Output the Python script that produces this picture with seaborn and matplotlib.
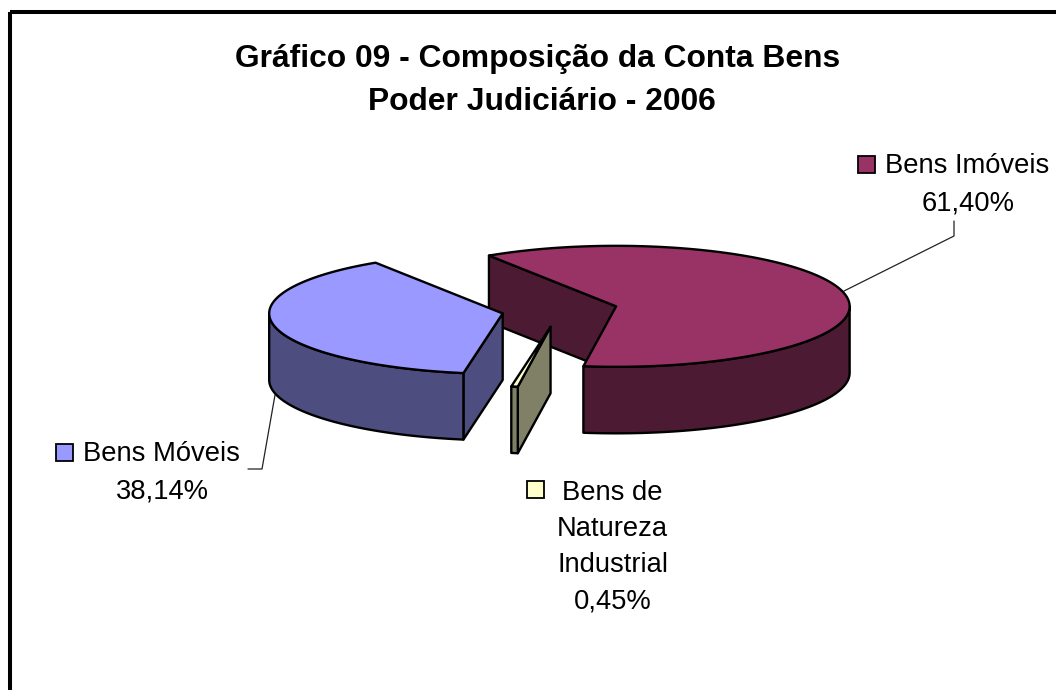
import numpy as np
import matplotlib
matplotlib.use("Agg")
import matplotlib.pyplot as plt
from matplotlib.patches import Polygon, Rectangle
import seaborn as sns

# --- data ---
categories = ["Bens Imóveis", "Bens de Natureza Industrial", "Bens Móveis"]
values = [61.40, 0.45, 38.14]
value_labels = ["61,40%", "0,45%", "38,14%"]
top_colors = ["#993366", "#FFFFCC", "#9999FF"]
side_colors = ["#4D1A33", "#808066", "#4D4D80"]
draw_order = [0, 2, 1]
title_lines = ["Gráfico 09 - Composição da Conta Bens", "Poder Judiciário - 2006"]

# --- pie geometry (pixel layout) ---
CX, CY = 559.5, 310.0
RX, RY = 233.5, 60.5
DEPTH = 66.5
EXPLODE_X, EXPLODE_Y = 58.0, 17.0
START_ANGLE = 123.0

sns.set_theme(style="white")
plt.rcParams["font.family"] = ["Liberation Sans", "DejaVu Sans"]

fig = plt.figure(figsize=(10.56, 6.90), dpi=100, facecolor="white")
ax = fig.add_axes([0, 0, 1, 1])
ax.set_xlim(0, 1056)
ax.set_ylim(690, 0)
ax.axis("off")

ax.add_patch(Rectangle((10, 11.5), 1100, 760, fill=False, ec="black", lw=2.9, zorder=1))


def ell(cx, cy, deg, dy=0.0):
    t = np.radians(deg)
    return np.column_stack([cx + RX * np.cos(t), cy - RY * np.sin(t) + dy])


def draw_slice(a_end, a_start, top, side, z):
    """Slice spans a_start..a_end counter-clockwise, in degrees."""
    mid = np.radians((a_start + a_end) / 2)
    cx = CX + EXPLODE_X * np.cos(mid)
    cy = CY - EXPLODE_Y * np.sin(mid)
    style = dict(ec="black", lw=1.7, joinstyle="round", zorder=z)

    # radial faces turned towards the viewer
    for ang, visible in ((a_end, np.cos(np.radians(a_end)) < 0),
                         (a_start, np.cos(np.radians(a_start)) > 0)):
        if visible:
            p = ell(cx, cy, np.array([ang]))[0]
            quad = [(cx, cy), tuple(p), (p[0], p[1] + DEPTH), (cx, cy + DEPTH)]
            ax.add_patch(Polygon(quad, fc=side, **style))

    # outer wall: the part of the rim on the viewer's side
    base = 360 * np.floor(a_start / 360)
    lo = max(a_start, base + 180)
    hi = min(a_end, base + 360)
    if hi > lo:
        arc = np.linspace(lo, hi, 120)
        wall = np.vstack([ell(cx, cy, arc), ell(cx, cy, arc[::-1], DEPTH)])
        ax.add_patch(Polygon(wall, fc=side, **style))

    # top surface
    arc = np.linspace(a_start, a_end, 300)
    ax.add_patch(Polygon(np.vstack([[cx, cy], ell(cx, cy, arc)]), fc=top, **style))


total = sum(values)
spans = [v / total * 360 for v in values]
ends = START_ANGLE - np.concatenate([[0], np.cumsum(spans)[:-1]])
for rank, i in enumerate(draw_order):
    a_end = ends[i]
    a_start = a_end - spans[i]
    if a_start < 0:
        a_start += 360
        a_end += 360
    draw_slice(a_end, a_start, top_colors[i], side_colors[i], 3 + rank)

# leader lines
ax.plot([844, 954, 954], [291, 236, 221], color="#222222", lw=0.9, zorder=2)
ax.plot([275, 262, 248], [395, 469, 469], color="#222222", lw=0.9, zorder=2)

# title
TFS = 22.9
for line, x, y in zip(title_lines, [537.5, 542], [67.5, 110.5]):
    ax.text(x, y, line, ha="center", va="baseline", fontsize=TFS,
            fontweight="bold", color="black")

# labels
FS = 19.7
key = dict(ec="black", lw=1.3, zorder=6)
ax.add_patch(Rectangle((857.5, 155.5), 17, 17, fc=top_colors[0], **key))
ax.text(885, 173, "Bens Imóveis", fontsize=FS, va="baseline", ha="left", color="black")
ax.text(968, 210, value_labels[0], fontsize=FS, va="baseline", ha="center", color="black")

ax.add_patch(Rectangle((55.5, 443.5), 17, 17, fc=top_colors[2], **key))
ax.text(83, 461, "Bens Móveis", fontsize=FS, va="baseline", ha="left", color="black")
ax.text(162, 498, value_labels[2], fontsize=FS, va="baseline", ha="center", color="black")

ax.add_patch(Rectangle((526.5, 480.5), 17, 17, fc=top_colors[1], **key))
for txt, y in zip(["Bens de", "Natureza", "Industrial", value_labels[1]], [500, 536, 572, 608]):
    ax.text(612.5, y, txt, fontsize=FS, va="baseline", ha="center", color="black")

sns.despine(ax=ax, left=True, bottom=True)
fig.savefig("out.png", dpi=100)
